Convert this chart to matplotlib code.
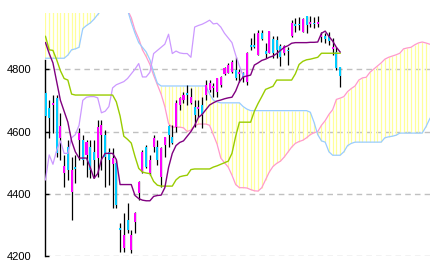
import numpy as np
import matplotlib
matplotlib.use("Agg")
import matplotlib.pyplot as plt

# daily candles
opens = [4723, 4675, 4685, 4707, 4579, 4467, 4550, 4406, 4486, 4572,
         4572, 4524, 4550, 4534, 4515, 4588, 4588, 4534, 4496, 4499,
         4290, 4226, 4316, 4220, 4310, 4403, 4470, 4550, 4467, 4550,
         4550, 4454, 4556, 4617, 4582, 4614, 4685, 4701, 4723, 4691,
         4678, 4672, 4685, 4717, 4733, 4740, 4726, 4749, 4784, 4787,
         4790, 4797, 4784, 4787, 4758, 4877, 4877, 4845, 4915, 4858,
         4851, 4896, 4893, 4874, 4851, 4862, 4906, 4944, 4945, 4918,
         4970, 4944, 4948, 4944, 4903, 4906, 4906, 4864, 4855, 4806]
highs = [4733, 4701, 4717, 4717, 4659, 4524, 4572, 4518, 4524, 4611,
         4588, 4572, 4572, 4572, 4637, 4637, 4604, 4547, 4547, 4508,
         4306, 4338, 4370, 4284, 4342, 4441, 4540, 4556, 4524, 4588,
         4572, 4550, 4582, 4620, 4620, 4701, 4710, 4726, 4749, 4739,
         4701, 4701, 4710, 4765, 4765, 4755, 4771, 4778, 4806, 4819,
         4829, 4838, 4800, 4790, 4855, 4899, 4915, 4925, 4925, 4883,
         4922, 4905, 4905, 4880, 4877, 4870, 4957, 4963, 4966, 4963,
         4970, 4970, 4966, 4970, 4918, 4915, 4918, 4899, 4870, 4806]
lows = [4645, 4579, 4595, 4518, 4508, 4422, 4444, 4316, 4435, 4508,
        4492, 4454, 4451, 4451, 4454, 4476, 4422, 4428, 4355, 4355,
        4213, 4213, 4274, 4210, 4274, 4380, 4467, 4483, 4460, 4534,
        4492, 4422, 4518, 4550, 4560, 4598, 4669, 4691, 4685, 4688,
        4614, 4646, 4611, 4701, 4726, 4710, 4710, 4742, 4781, 4787,
        4787, 4765, 4760, 4760, 4750, 4861, 4867, 4845, 4893, 4835,
        4851, 4835, 4835, 4810, 4845, 4813, 4903, 4918, 4925, 4918,
        4915, 4935, 4931, 4935, 4886, 4883, 4877, 4845, 4797, 4742]
closes = [4650, 4643, 4691, 4530, 4617, 4489, 4476, 4476, 4480, 4595,
          4508, 4566, 4476, 4508, 4614, 4620, 4518, 4508, 4515, 4364,
          4284, 4268, 4284, 4268, 4338, 4438, 4534, 4486, 4508, 4579,
          4508, 4547, 4582, 4588, 4563, 4691, 4707, 4717, 4717, 4710,
          4653, 4678, 4653, 4749, 4755, 4745, 4771, 4774, 4803, 4813,
          4822, 4771, 4790, 4774, 4851, 4870, 4872, 4915, 4896, 4848,
          4922, 4851, 4861, 4838, 4874, 4858, 4947, 4938, 4941, 4960,
          4941, 4950, 4945, 4950, 4909, 4896, 4890, 4870, 4803, 4778]

# conversion line
tenkan = [4885, 4850, 4820, 4760, 4700, 4665, 4630, 4570, 4535, 4515,
          4515, 4515, 4485, 4450, 4465, 4510, 4530, 4530, 4530, 4510,
          4430, 4430, 4430, 4430, 4395, 4385, 4380, 4378, 4378, 4392,
          4395, 4396, 4420, 4485, 4530, 4555, 4565, 4570, 4585, 4600,
          4620, 4645, 4655, 4670, 4685, 4692, 4698, 4701, 4705, 4708,
          4710, 4730, 4760, 4775, 4778, 4781, 4813, 4820, 4828, 4832,
          4838, 4842, 4850, 4860, 4870, 4875, 4883, 4885, 4885, 4885,
          4885, 4886, 4886, 4887, 4915, 4922, 4905, 4890, 4870, 4855]
# base line
kijun = [4905, 4862, 4860, 4830, 4795, 4770, 4765, 4720, 4717, 4717,
         4717, 4717, 4717, 4717, 4717, 4717, 4717, 4717, 4717, 4695,
         4650, 4585, 4575, 4563, 4520, 4482, 4470, 4467, 4465, 4440,
         4428, 4425, 4425, 4425, 4425, 4445, 4455, 4458, 4460, 4478,
         4480, 4480, 4480, 4480, 4480, 4486, 4490, 4495, 4500, 4505,
         4530, 4585, 4630, 4630, 4630, 4630, 4665, 4690, 4712, 4735,
         4740, 4745, 4765, 4765, 4765, 4765, 4765, 4785, 4815, 4825,
         4830, 4832, 4835, 4838, 4851, 4851, 4851, 4851, 4851, 4851]
# lagging span
chikou = [4445, 4525, 4495, 4540, 4570, 4530, 4530, 4580, 4590, 4620,
          4700, 4710, 4712, 4712, 4708, 4660, 4665, 4680, 4740, 4750,
          4755, 4760, 4770, 4785, 4800, 4818, 4775, 4775, 4790, 4850,
          4860, 4870, 4880, 4912, 4850, 4858, 4852, 4850, 4850, 4838,
          4935, 4940, 4944, 4950, 4957, 4945, 4947, 4935, 4915, 4900,
          4885, 4845, 4810, 4778]
# leading spans (extend 26 bars ahead)
span_a = [5040, 5040, 5040, 5035, 5035, 5035, 5030, 5030, 5030, 5030,
          5025, 5025, 5025, 5020, 5020, 5020, 5015, 5015, 5010, 5010,
          5005, 5000, 4990, 4965, 4925, 4898, 4862, 4840, 4815, 4780,
          4750, 4720, 4680, 4625, 4614, 4614, 4614, 4612, 4600, 4605,
          4618, 4624, 4624, 4624, 4620, 4590, 4560, 4515, 4500, 4486,
          4460, 4430, 4420, 4420, 4419, 4414, 4410, 4409, 4420, 4445,
          4470, 4488, 4498, 4505, 4518, 4534, 4550, 4562, 4568, 4572,
          4580, 4590, 4596, 4600, 4620, 4635, 4655, 4670, 4703, 4707,
          4712, 4728, 4738, 4746, 4765, 4772, 4774, 4790, 4800, 4810,
          4820, 4832, 4838, 4842, 4846, 4851, 4865, 4868, 4870, 4878,
          4884, 4887, 4884, 4880, 4880, 4880]
span_b = [4835, 4835, 4835, 4835, 4835, 4835, 4845, 4862, 4865, 4870,
          4930, 4940, 4948, 4960, 4975, 4990, 4995, 5000, 5010, 5015,
          5015, 5010, 4990, 4950, 4915, 4885, 4870, 4855, 4830, 4790,
          4755, 4746, 4746, 4746, 4746, 4746, 4746, 4746, 4746, 4746,
          4746, 4746, 4746, 4746, 4720, 4701, 4695, 4692, 4692, 4692,
          4692, 4692, 4692, 4680, 4672, 4667, 4667, 4667, 4667, 4667,
          4667, 4667, 4667, 4667, 4667, 4667, 4667, 4667, 4667, 4667,
          4667, 4662, 4630, 4590, 4570, 4566, 4535, 4524, 4524, 4524,
          4535, 4555, 4562, 4566, 4566, 4566, 4566, 4566, 4566, 4566,
          4566, 4580, 4583, 4585, 4588, 4595, 4595, 4595, 4595, 4595,
          4595, 4595, 4615, 4640, 4660, 4680]

yticks = [4200, 4400, 4600, 4800]

x = np.arange(len(closes))
xs = np.arange(len(span_a))
o = np.array(opens)
c = np.array(closes)
up = c >= o

fig = plt.figure(figsize=(4.33, 2.70), dpi=100)
ax = fig.add_axes([45 / 433, 13.7 / 270, 385 / 433, 243.3 / 270])

# cloud: thin yellow vertical lines between the two spans
ax.vlines(xs, span_a, span_b, colors="#ffff99", lw=0.9, zorder=1)
ax.plot(xs, span_a, color="#ff99cc", lw=0.9, zorder=2)
ax.plot(xs, span_b, color="#99ccff", lw=0.9, zorder=2)

# candles
ax.vlines(x, lows, highs, colors="black", lw=0.9, zorder=3)
body = np.maximum(np.abs(c - o), 3)
ax.bar(x, body, bottom=np.minimum(o, c), width=0.55,
       color=np.where(up, "#ff00ff", "#00ccff"), lw=0, zorder=4)

ax.plot(np.arange(len(chikou)), chikou, color="#cc99ff", lw=0.9, zorder=5)
ax.plot(x, kijun, color="#99cc00", lw=1.0, zorder=5)
ax.plot(x, tenkan, color="#800080", lw=1.0, zorder=6)

ax.set_xlim(-0.13, 103.1)
ax.set_ylim(4200, 4980)
ax.set_yticks(yticks)
ax.set_yticklabels([str(v) for v in yticks], fontsize=8,
                   family="Liberation Sans")
ax.yaxis.grid(True, color="#c0c0c0", ls=(0, (4, 3)), lw=1)
ax.set_axisbelow(True)
ax.tick_params(axis="y", direction="in", length=3, width=1, pad=10)
ax.set_xticks([])
for s in ["top", "right", "bottom"]:
    ax.spines[s].set_visible(False)
ax.spines["left"].set_bounds(4200, 4830)
ax.spines["left"].set_linewidth(1)
ax.spines["left"].set_zorder(2.5)

fig.savefig("out.png", dpi=100)
